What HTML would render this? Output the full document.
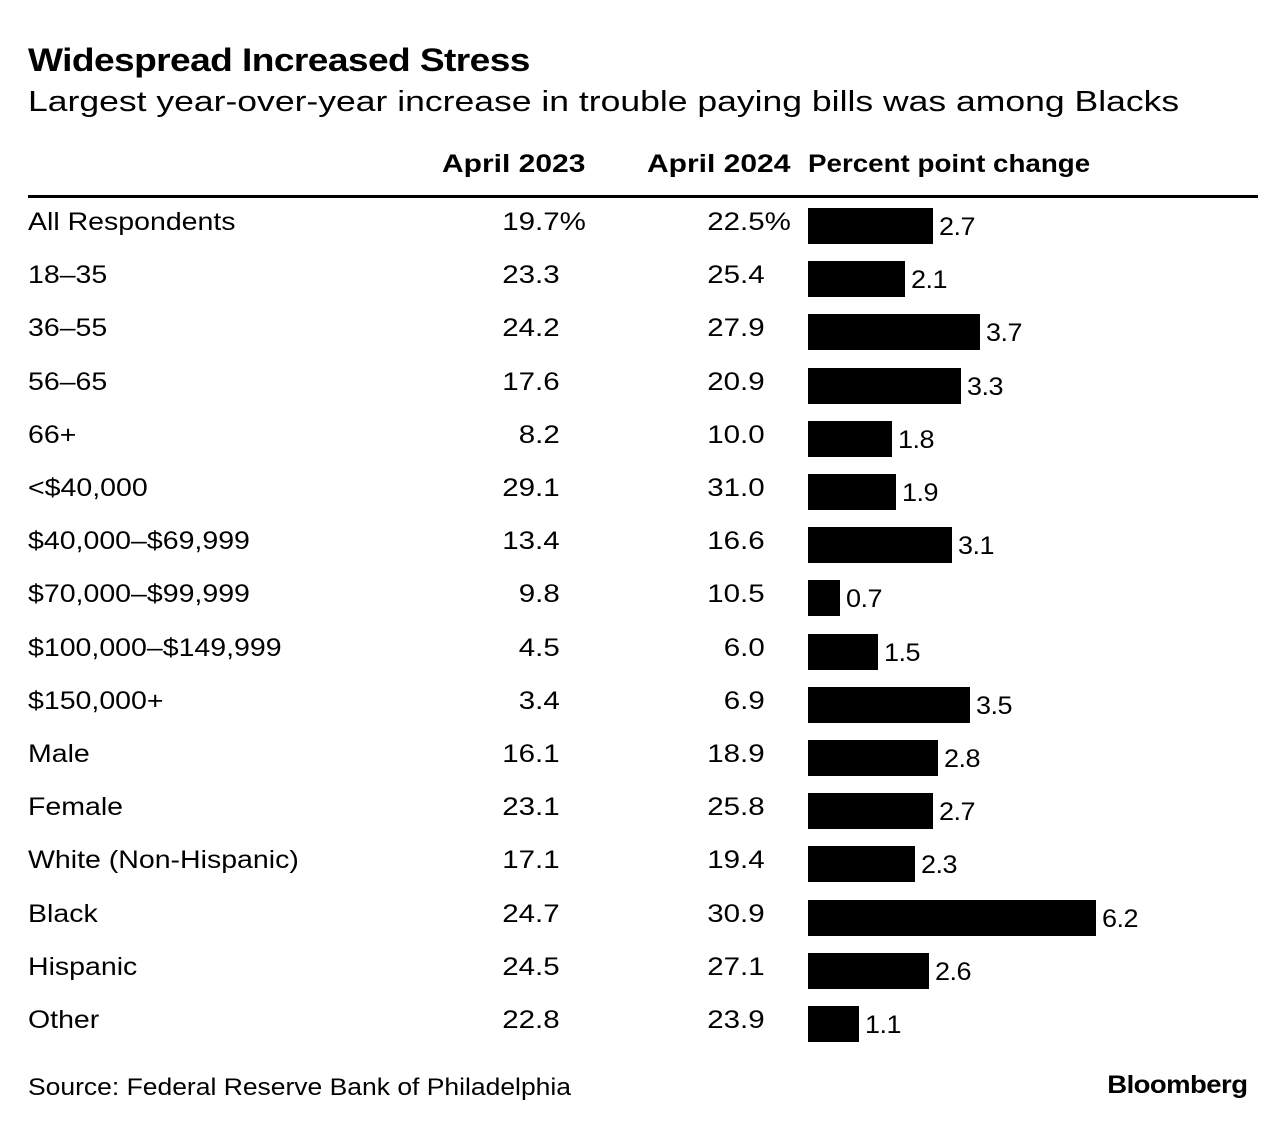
<!DOCTYPE html>
<html><head><meta charset="utf-8"><style>
body{margin:0;width:1286px;height:1130px;background:#fff;font-family:"Liberation Sans",sans-serif;color:#000;position:relative;overflow:hidden}
.t{position:absolute;white-space:nowrap;transform-origin:left center}
.r{transform-origin:right center}
</style></head><body>
<div class="t" style="left:28px;top:42px;font-size:32px;font-weight:bold;letter-spacing:-0.5px;transform:scaleX(1.16)">Widespread Increased Stress</div>
<div class="t" style="left:28px;top:86px;font-size:29px;transform:scaleX(1.225)">Largest year-over-year increase in trouble paying bills was among Blacks</div>
<div class="t" style="left:442px;top:150px;font-size:25px;font-weight:bold;transform:scaleX(1.2)">April 2023</div>
<div class="t" style="left:647px;top:150px;font-size:25px;font-weight:bold;transform:scaleX(1.2)">April 2024</div>
<div class="t" style="left:808px;top:150px;font-size:25px;font-weight:bold;transform:scaleX(1.11)">Percent point change</div>
<div style="position:absolute;left:28px;top:195px;width:1230px;height:3px;background:#000"></div>
<div id="rows"></div>
<div class="t" style="left:28px;top:1074px;font-size:24px;transform:scaleX(1.103)">Source: Federal Reserve Bank of Philadelphia</div>
<div class="t r" style="right:39px;top:1071px;font-size:25px;font-weight:bold;letter-spacing:-0.5px;transform:scaleX(1.1)">Bloomberg</div>
<script>
const categories=["All Respondents","18–35","36–55","56–65","66+","<$40,000","$40,000–$69,999","$70,000–$99,999","$100,000–$149,999","$150,000+","Male","Female","White (Non-Hispanic)","Black","Hispanic","Other"];
const v2023=[19.7,23.3,24.2,17.6,8.2,29.1,13.4,9.8,4.5,3.4,16.1,23.1,17.1,24.7,24.5,22.8];
const v2024=[22.5,25.4,27.9,20.9,10.0,31.0,16.6,10.5,6.0,6.9,18.9,25.8,19.4,30.9,27.1,23.9];
const changes=[2.7,2.1,3.7,3.3,1.8,1.9,3.1,0.7,1.5,3.5,2.8,2.7,2.3,6.2,2.6,1.1];
const root=document.getElementById('rows');
const xScale=v=>v*46.4;
const rowY=i=>208+i*53.2;
function mk(css,txt,cls){const d=document.createElement('div');d.className='t'+(cls?' '+cls:'');d.style.cssText=css;if(txt!=null)d.textContent=txt;root.appendChild(d);return d;}
categories.forEach((c,i)=>{
  const y=rowY(i);
  const l=mk(`left:28px;top:${y}px;font-size:25px;line-height:28px;transform:scaleX(1.14)`,c);
  
  
  const pct=i===0;
  const a=mk(`right:${1286-560}px;top:${y}px;font-size:25px;line-height:28px;transform:scaleX(1.18)`,v2023[i].toFixed(1),'r');
  
  
  if(pct){const s=document.createElement('span');s.textContent='%';s.style.cssText='position:absolute;left:100%';a.appendChild(s);}
  const b=mk(`right:${1286-765}px;top:${y}px;font-size:25px;line-height:28px;transform:scaleX(1.18)`,v2024[i].toFixed(1),'r');
  
  
  if(pct){const s=document.createElement('span');s.textContent='%';s.style.cssText='position:absolute;left:100%';b.appendChild(s);}
  const w=xScale(changes[i]);
  const bar=mk(`left:808px;top:${y}px;width:${w}px;height:36px;background:#000`);
  
  
  const t=mk(`left:${808+w+6}px;top:${y+5}px;font-size:25px;line-height:28px;letter-spacing:-0.5px;transform:scaleX(1.08)`,changes[i].toFixed(1));
  
  
});
</script>
</body></html>
